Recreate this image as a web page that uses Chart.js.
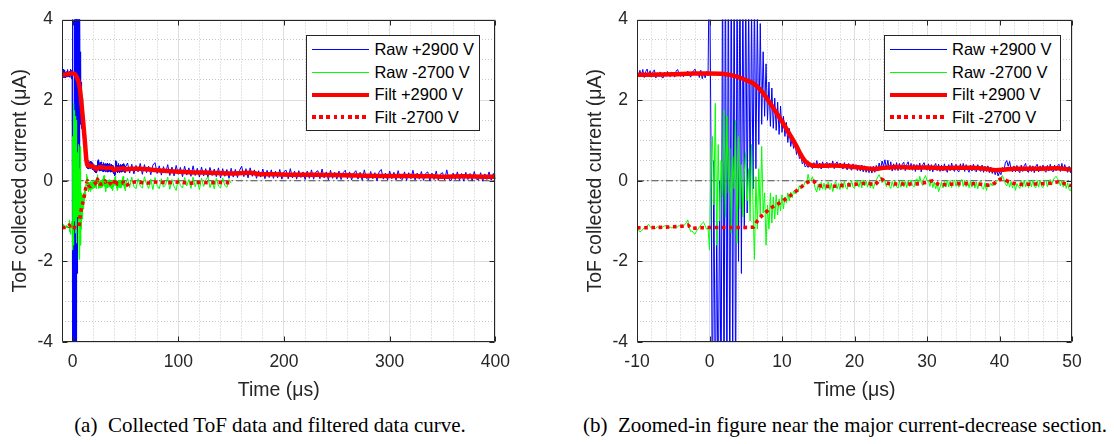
<!DOCTYPE html>
<html><head><meta charset="utf-8">
<script src="https://cdn.jsdelivr.net/npm/chart.js@4.4.1/dist/chart.umd.min.js"></script>
<style>
html,body{margin:0;padding:0;background:#fff}
body{width:1114px;height:444px;position:relative;overflow:hidden}
.panel{position:absolute;top:0;width:520px;height:410px}
.lg{position:absolute;background:#fff;border:1px solid #262626;box-sizing:border-box;height:96px;padding:3px 0 0 5px;font:16.5px 'Liberation Sans',Arial,sans-serif;color:#000}
.row{height:22px;display:flex;align-items:center;white-space:nowrap;margin-bottom:0.5px}
.smp{width:57px;margin-right:5px;flex:none}
.cap{position:absolute;top:415px;width:540px;text-align:center;font:21px/21px 'Liberation Serif','Times New Roman',serif;color:#000;white-space:nowrap}
</style></head><body>
<div class="panel" id="panelA" style="left:0"><canvas id="chartA"></canvas><div class="lg" id="legendA" style="width:174px"></div></div>
<div class="panel" id="panelB" style="left:575px"><canvas id="chartB"></canvas><div class="lg" id="legendB" style="width:177px"></div></div>
<div class="cap" style="left:0">(a)&ensp;Collected ToF data and filtered data curve.</div>
<div class="cap" style="left:575px">(b)&ensp;Zoomed-in figure near the major current-decrease section.</div>
<script>
// ---------------- DATA ----------------
const seriesLabels = ['Raw +2900 V', 'Raw -2700 V', 'Filt +2900 V', 'Filt -2700 V'];
const xTitle = 'Time (μs)';
const yTitle = 'ToF collected current (μA)';
const xRangeA = [-10, 400];
const xRangeB = [-10, 50];
const yRange = [-4, 4];
const xTicksA = [0, 100, 200, 300, 400];
const xTicksB = [-10, 0, 10, 20, 30, 40, 50];
const yTicks = [-4, -2, 0, 2, 4];
const xMinorStepA = 20, xMinorStepB = 2, yMinorStep = 0.5;

// fine sampled section (-10 .. 50 us, every 0.2 us)
const timeStartFine = -10, timeStepFine = 0.2;
const rawPosFine = [
2.70,2.58,2.74,2.60,2.76,2.56,2.71,2.77,2.59,2.73,
2.57,2.70,2.75,2.55,2.68,2.59,2.70,2.57,2.55,2.69,
2.60,2.71,2.62,2.58,2.70,2.66,2.57,2.72,2.76,2.65,
2.59,2.70,2.58,2.69,2.61,2.72,2.63,2.57,2.68,2.73,
2.77,2.62,2.70,2.56,2.74,2.53,2.69,2.55,2.71,2.60,
6.0,1.0,-6.0,0.5,-6.0,-1.0,-6.0,0.0,-6.0,6.0,
-6.0,6.0,-6.0,6.0,-6.0,6.0,-5.0,6.0,-6.0,5.5,
-2.0,5.5,-2.3,5.0,-1.2,5.0,-0.8,4.6,-0.5,4.4,
-0.2,4.6,0.3,4.2,0.9,3.9,1.4,3.2,1.6,2.9,
1.5,
2.45,1.35,2.30,1.30,2.05,1.25,1.95,1.15,1.85,1.20,
1.60,1.10,1.45,0.95,1.30,0.85,1.05,0.80,0.95,0.65,
0.80,0.55,0.60,0.42,0.48,0.34,0.38,0.33,0.40,0.36,
0.30,0.45,0.33,0.50,0.31,0.44,0.29,0.47,0.35,0.42,
0.46,0.31,0.44,0.35,0.49,0.30,0.42,0.47,0.32,0.44,
0.41,0.29,0.45,0.33,0.27,0.43,0.31,0.26,0.42,0.30,
0.40,0.25,0.38,0.24,0.39,0.22,0.37,0.21,0.34,0.20,
0.35,0.19,0.36,0.21,0.38,0.24,0.44,0.28,0.49,0.36,
0.52,0.30,0.51,0.27,0.47,0.24,0.42,0.26,0.45,0.25,
0.43,0.27,0.41,0.46,0.25,0.40,0.47,0.28,0.43,0.26,
0.41,0.23,0.40,0.27,0.44,0.22,0.39,0.45,0.30,0.26,
0.42,0.24,0.40,0.22,0.37,0.43,0.25,0.41,0.23,0.39,
0.24,0.42,0.27,0.21,0.40,0.25,0.44,0.28,0.23,0.41,
0.25,0.22,0.42,0.27,0.43,0.23,0.40,0.28,0.21,0.39,
0.24,0.41,0.26,0.22,0.40,0.28,0.23,0.39,0.21,0.36,
0.23,0.37,0.20,0.34,0.18,0.31,0.15,0.28,0.12,0.22,
0.15,0.33,0.24,0.44,0.50,0.36,0.48,0.27,0.22,0.37,
0.22,0.38,0.25,0.20,0.39,0.23,0.37,0.43,0.24,0.21,
0.38,0.23,0.37,0.20,0.36,0.41,0.22,0.37,0.24,0.39,
0.25,0.21,0.38,0.24,0.41,0.26,0.22,0.39,0.25,0.37,
0.41,0.23,0.43,0.26,0.40,0.27,0.21,0.36,0.20,0.33
];
const rawNegFine = [
-1.17,-1.22,-1.27,-1.25,-1.20,-1.18,-1.16,-1.12,-1.08,-1.14,
-1.17,-1.15,-1.19,-1.18,-1.14,-1.16,-1.15,-1.17,-1.14,-1.12,
-1.11,-1.14,-1.16,-1.15,-1.17,-1.16,-1.13,-1.15,-1.14,-1.11,
-1.13,-1.10,-1.12,-1.09,-1.04,-0.97,-1.15,-1.26,-1.24,-1.30,
-1.33,-1.25,-1.20,-1.15,-1.10,-1.05,-1.03,-1.12,-1.20,-1.18,
-1.72,0.4,1.1,-0.6,1.92,-1.6,0.9,-1.0,0.5,-0.4,
1.75,-0.9,1.6,-0.3,0.8,-1.3,0.6,-0.2,1.5,-1.55,
1.1,-0.7,0.4,-0.9,0.2,0.7,-0.5,0.3,-1.0,0.9,
-0.6,-1.95,0.1,-1.2,0.3,-0.9,0.85,-0.8,-0.3,-1.6,
-0.6,
-1.20,-0.30,-1.05,-0.40,-0.95,-0.35,-0.85,-0.45,-0.75,-0.35,
-0.70,-0.40,-0.55,-0.30,-0.50,-0.28,-0.42,-0.25,-0.33,-0.20,
-0.28,-0.12,-0.20,-0.08,-0.12,-0.02,-0.06,0.16,-0.02,0.02,
0.10,-0.05,-0.20,-0.28,-0.08,-0.24,-0.04,-0.21,-0.06,-0.23,
-0.08,-0.03,-0.22,-0.06,-0.27,-0.10,-0.02,-0.20,-0.07,-0.22,
-0.04,-0.19,-0.01,-0.17,-0.21,-0.03,-0.16,0.00,-0.15,-0.19,
-0.02,0.01,-0.16,-0.01,-0.18,0.02,-0.13,-0.01,-0.16,-0.02,
-0.18,-0.04,-0.20,-0.06,0.01,0.09,0.15,0.06,-0.05,0.04,
-0.01,-0.15,0.00,-0.14,-0.19,-0.02,-0.16,0.00,-0.15,-0.18,
-0.01,-0.16,0.01,-0.15,-0.02,-0.17,0.00,-0.14,0.02,-0.12,
-0.16,0.01,0.05,-0.10,0.11,-0.04,-0.12,0.06,0.13,0.00,
0.01,-0.14,0.02,-0.17,-0.03,-0.20,-0.06,-0.27,-0.16,-0.03,
-0.18,-0.01,-0.16,0.01,-0.15,0.00,-0.17,-0.02,0.02,-0.14,
0.00,-0.16,-0.01,0.03,-0.14,0.01,-0.15,-0.01,-0.17,-0.02,
-0.16,0.00,-0.18,-0.03,-0.20,-0.04,0.00,-0.17,-0.21,-0.05,
-0.24,-0.08,-0.15,-0.06,-0.13,-0.03,-0.11,-0.02,0.01,0.05,
0.09,0.13,0.04,-0.07,-0.13,0.00,-0.16,-0.02,-0.18,-0.04,
-0.24,-0.07,-0.14,-0.19,0.00,-0.16,0.01,-0.15,-0.02,-0.17,
0.00,-0.15,0.02,-0.14,-0.18,0.00,-0.16,0.01,-0.14,-0.17,
-0.02,0.02,-0.15,0.00,0.03,-0.11,0.02,0.07,0.11,0.05,
-0.01,-0.13,0.01,-0.16,-0.02,-0.19,-0.05,-0.22,-0.25,-0.11
];

// coarse sampled section (52 us onward, every 2 us)
const timeStartCoarse = 52, timeStepCoarse = 2;
const rawPosCoarse = [
0.44,0.19,0.41,0.17,0.38,0.22,0.43,0.16,0.40,0.20,
0.36,0.15,0.39,0.45,0.18,0.37,0.14,0.35,0.19,0.40,
0.13,0.34,0.12,0.38,0.16,0.33,0.10,0.36,0.14,0.32,
0.11,0.37,0.13,0.31,0.09,0.34,0.12,0.30,0.08,0.33,
0.13,0.29,0.10,0.32,0.07,0.30,0.11,0.28,0.06,0.31,
0.09,0.28,0.08,0.26,0.36,0.10,0.30,0.07,0.32,0.11,
0.27,0.06,0.25,0.09,0.29,0.05,0.26,0.08,0.27,0.06,
0.24,0.07,0.28,0.04,0.23,0.26,0.05,0.30,0.07,0.24,
0.04,0.25,0.08,0.22,0.03,0.24,0.06,0.27,0.04,0.21,
0.25,0.05,0.29,0.07,0.22,0.02,0.26,0.06,0.21,0.04,
0.24,0.03,0.20,0.26,0.05,0.22,0.02,0.19,0.25,0.04,
0.21,0.01,0.27,0.06,0.03,0.23,0.05,0.20,0.00,0.22,
0.28,0.04,0.19,0.02,0.24,0.05,0.21,0.02,0.25,0.06,
0.03,0.22,0.01,0.20,0.05,0.26,0.02,0.19,0.04,0.23,
0.01,0.18,0.22,0.00,0.19,0.03,0.24,0.01,0.17,0.20,
0.02,0.27,0.04,0.00,0.19,0.03,0.22,0.01,0.18,-0.01,
0.21,0.03,0.18,0.00,0.23,0.04,0.02,0.20,-0.01,0.17,
0.03,0.22,0.01,0.18,0.04
];
const rawNegCoarse = [
0.06,-0.17,0.09,-0.14,-0.20,0.05,-0.13,-0.18,0.10,-0.09,
-0.19,0.04,-0.22,0.08,-0.12,-0.20,0.05,-0.16,-0.10,0.09,
-0.21,0.03,-0.14,-0.24,0.07,-0.12,-0.18,0.08,-0.13,0.03,
-0.19,0.09,-0.15,0.01,-0.22,0.06,-0.14,0.02,0.10,-0.17,
0.00,-0.20,0.06,-0.13,-0.18,0.07,-0.12,-0.16,0.03,-0.06
];

// filtered curves
const filtPosTime = [-10,-5,-2,0,2,3,4,5,6,7,7.5,8,9,10,11,12,12.5,13,13.5,14,15,17,19,21,22.5,24,26,28,30,32,34,36,38,39.5,40.5,42,45,48,50,55,63,75,90,110,130,150,160,168,175,190,210,230,250,270,300,320,340,350,370,390,400];
const filtPosVal = [2.63,2.64,2.66,2.66,2.65,2.62,2.57,2.50,2.42,2.26,2.15,2.02,1.75,1.47,1.17,0.86,0.68,0.53,0.44,0.39,0.37,0.38,0.36,0.32,0.29,0.32,0.34,0.33,0.33,0.31,0.32,0.32,0.30,0.26,0.27,0.30,0.30,0.31,0.28,0.30,0.30,0.27,0.24,0.21,0.20,0.18,0.19,0.20,0.17,0.16,0.15,0.15,0.14,0.13,0.12,0.12,0.11,0.10,0.11,0.10,0.10];
const filtNegTime = [-10,-8,-6,-3.5,-3,-2.5,-1.5,0,3,6,6.7,7.6,8.6,9.6,10.6,11.5,12.5,13.5,14.2,14.9,16,17,18,20,21.8,22.7,23.7,24.5,26,28,30,30.8,31.8,33,35,37,38.7,40.3,41.5,43,45,47,48,50,55,60,70,80,90,100,110,120,130,140,150];
const filtNegVal = [-1.17,-1.16,-1.15,-1.12,-1.10,-1.18,-1.17,-1.16,-1.16,-1.15,-0.97,-0.81,-0.66,-0.56,-0.44,-0.32,-0.18,-0.04,0.00,-0.10,-0.14,-0.14,-0.12,-0.09,-0.06,-0.10,0.04,-0.06,-0.08,-0.08,-0.04,0.00,-0.10,-0.09,-0.07,-0.08,-0.11,0.04,-0.04,-0.09,-0.08,-0.06,-0.03,-0.12,-0.05,-0.03,-0.06,-0.03,-0.05,-0.03,-0.06,-0.04,-0.05,-0.04,-0.05];

// ---------------- BUILD ----------------
function sampled(start, step, values) { return values.map((v, i) => ({x: Math.round((start + i * step) * 1000) / 1000, y: v})); }
function paired(ts, vs) { return ts.map((t, i) => ({x: t, y: vs[i]})); }
const rawPos = sampled(timeStartFine, timeStepFine, rawPosFine).concat(sampled(timeStartCoarse, timeStepCoarse, rawPosCoarse));
const rawNeg = sampled(timeStartFine, timeStepFine, rawNegFine).concat(sampled(timeStartCoarse, timeStepCoarse, rawNegCoarse));
const filtPos = paired(filtPosTime, filtPosVal);
const filtNeg = paired(filtNegTime, filtNegVal);

Chart.defaults.font.family = "'Liberation Sans', Arial, sans-serif";
Chart.defaults.color = '#262626';

function makeDatasets(xr) {
  const common = {pointRadius: 0, fill: false, tension: 0, clip: 0, borderJoinStyle: 'round'};
  return [
    Object.assign({label: seriesLabels[0], data: rawPos, borderColor: '#0000ff', borderWidth: 1, order: 3}, common),
    Object.assign({label: seriesLabels[1], data: rawNeg, borderColor: '#00ff00', borderWidth: 1, order: 2}, common),
    Object.assign({label: seriesLabels[2], data: filtPos, borderColor: '#ff0000', borderWidth: 4.5, order: 1}, common, {cubicInterpolationMode: 'monotone'}),
    Object.assign({label: seriesLabels[3], data: filtNeg, borderColor: '#ff0000', borderWidth: 3.6, borderDash: [3.6, 3.6], borderCapStyle: 'butt', order: 0}, common, {cubicInterpolationMode: 'monotone', borderJoinStyle: 'miter'}),
    Object.assign({label: '', data: [{x: xr[0], y: 0}, {x: xr[1], y: 0}], borderColor: '#4d4d4d', borderWidth: 1.2, borderDash: [7, 3, 1.5, 3], order: 4, isRef: true}, common)
  ];
}
function near(v, list) { return list.some(t => Math.abs(t - v) < 1e-9); }
function makeScales(xr, xTicks, xMinorStep) {
  return {
    x: {type: 'linear', position: 'bottom', min: xr[0], max: xr[1],
      afterBuildTicks: s => { s.ticks = xTicks.map(v => ({value: v})); },
      afterFit: s => { s.height = 68; },
      grid: {color: '#dedede', lineWidth: 1, drawTicks: false},
      border: {display: false},
      ticks: {padding: 10, color: '#262626', font: {size: 17.5}, maxRotation: 0, autoSkip: false},
      title: {display: true, text: xTitle, color: '#262626', font: {size: 19.5}, padding: {top: 0, bottom: 8}}},
    xm: {type: 'linear', position: 'bottom', min: xr[0], max: xr[1],
      ticks: {display: false, stepSize: xMinorStep, autoSkip: false},
      grid: {color: c => near(c.tick.value, xTicks) || c.tick.value === xr[0] ? 'rgba(0,0,0,0)' : '#c9c9c9', lineWidth: 1, drawTicks: false},
      border: {display: false, dash: [1, 2]},
      afterFit: s => { s.height = 0; }},
    y: {type: 'linear', position: 'left', min: yRange[0], max: yRange[1],
      afterBuildTicks: s => { s.ticks = yTicks.map(v => ({value: v})); },
      afterFit: s => { s.width = 62; },
      grid: {color: '#dedede', lineWidth: 1, drawTicks: false},
      border: {display: false},
      ticks: {padding: 9, color: '#262626', font: {size: 17.5}, autoSkip: false},
      title: {display: true, text: yTitle, color: '#262626', font: {size: 19.5}, padding: {top: 9, bottom: 0}}},
    ym: {type: 'linear', position: 'left', min: yRange[0], max: yRange[1],
      ticks: {display: false, stepSize: yMinorStep, autoSkip: false},
      grid: {color: c => near(c.tick.value, yTicks) ? 'rgba(0,0,0,0)' : '#c9c9c9', lineWidth: 1, drawTicks: false},
      border: {display: false, dash: [1, 2]},
      afterFit: s => { s.width = 0; }}
  };
}

const framePlugin = {
  id: 'frame',
  afterDatasetsDraw(chart) {
    const {ctx, chartArea: a, scales} = chart;
    const L = Math.round(a.left) + 0.5, R = Math.round(a.right) - 0.5, T = Math.round(a.top) + 0.5, B = Math.round(a.bottom) - 0.5;
    ctx.save();
    ctx.strokeStyle = '#262626';
    ctx.lineWidth = 1;
    ctx.setLineDash([]);
    ctx.beginPath();
    ctx.rect(L, T, R - L, B - T);
    const tl = 5;
    scales.x.ticks.forEach(t => {
      const p = Math.round(scales.x.getPixelForValue(t.value)) + 0.5;
      ctx.moveTo(p, B); ctx.lineTo(p, B - tl);
      ctx.moveTo(p, T); ctx.lineTo(p, T + tl);
    });
    scales.y.ticks.forEach(t => {
      const p = Math.round(scales.y.getPixelForValue(t.value)) + 0.5;
      ctx.moveTo(L, p); ctx.lineTo(L + tl, p);
      ctx.moveTo(R, p); ctx.lineTo(R - tl, p);
    });
    ctx.stroke();
    ctx.restore();
  }
};

const htmlLegendPlugin = {
  id: 'htmlLegend',
  afterRender(chart, args, opts) {
    const el = document.getElementById(opts.containerID);
    if (!el.dataset.built) {
      el.dataset.built = '1';
      chart.data.datasets.filter(d => !d.isRef).forEach(d => {
        const row = document.createElement('div'); row.className = 'row';
        const s = document.createElement('div'); s.className = 'smp';
        if (d.borderDash && d.borderDash.length) {
          s.style.height = '4px';
          s.style.background = 'repeating-linear-gradient(to right,' + d.borderColor + ' 0 ' + d.borderDash[0] + 'px, transparent ' + d.borderDash[0] + 'px ' + (d.borderDash[0] + d.borderDash[1]) + 'px)';
        } else if (d.borderWidth > 2) {
          s.style.height = '4px';
          s.style.background = d.borderColor;
        } else {
          s.style.height = '0';
          s.style.borderTop = '1px solid ' + d.borderColor;
        }
        const tx = document.createElement('span'); tx.textContent = d.label;
        row.appendChild(s); row.appendChild(tx); el.appendChild(row);
      });
    }
    el.style.left = (chart.chartArea.right - opts.inset - el.offsetWidth) + 'px';
    el.style.top = (chart.chartArea.top + 15) + 'px';
  }
};

function makeChart(id, legendId, inset, xr, xTicks, xMinorStep, padRight) {
  return new Chart(document.getElementById(id), {
    type: 'line',
    data: {datasets: makeDatasets(xr)},
    options: {
      responsive: true, maintainAspectRatio: false, animation: false, events: [],
      parsing: false, normalized: true,
      layout: {padding: {left: 0, right: padRight, top: 12, bottom: 0}},
      scales: makeScales(xr, xTicks, xMinorStep),
      plugins: {legend: {display: false}, tooltip: {enabled: false}, htmlLegend: {containerID: legendId, inset: inset}}
    },
    plugins: [framePlugin, htmlLegendPlugin]
  });
}
makeChart('chartA', 'legendA', 15, xRangeA, xTicksA, xMinorStepA, 21);
makeChart('chartB', 'legendB', 11, xRangeB, xTicksB, xMinorStepB, 23);
</script>
</body></html>
